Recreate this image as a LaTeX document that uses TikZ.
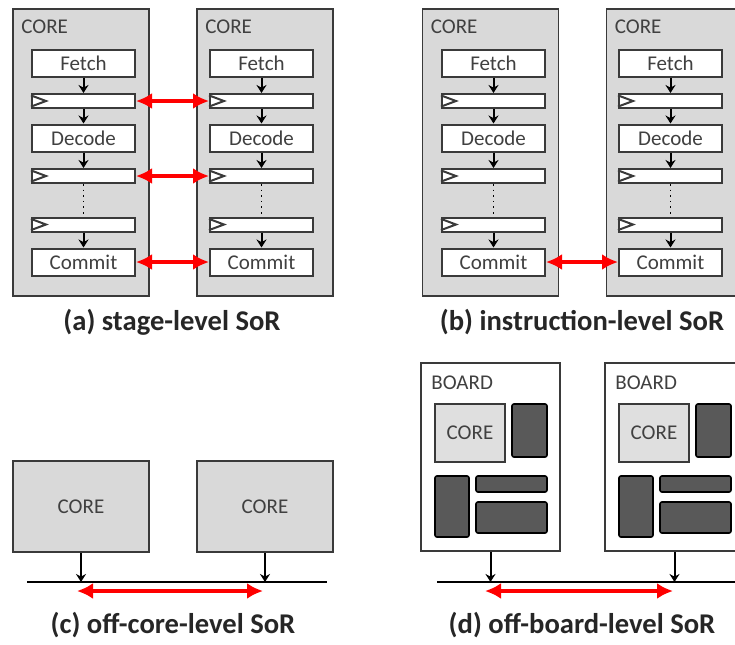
\documentclass[tikz,border=0pt]{standalone}
\usepackage{fontspec}
\setmainfont{Carlito}
\usetikzlibrary{arrows.meta}

\definecolor{coregray}{HTML}{D9D9D9}
\definecolor{chipgray}{HTML}{595959}
\definecolor{edgegray}{HTML}{3A3A3A}
\definecolor{txtgray}{HTML}{404040}

\begin{document}
\begin{tikzpicture}[
	x=0.5pt, y=-0.5pt,
	core/.style={draw=edgegray, fill=coregray, line width=0.9pt, inner sep=0pt, minimum width=68pt, minimum height=143.5pt},
	smallcore/.style={core, minimum height=45.5pt, font=\fontsize{10.5}{12}\selectfont, text=txtgray},
	stagebox/.style={draw=edgegray, fill=white, line width=1pt, inner sep=0pt, minimum width=51.5pt, minimum height=13.5pt, font=\fontsize{10.5}{12}\selectfont, text=txtgray},
	regbox/.style={stagebox, minimum height=7pt},
	lbl/.style={inner sep=0pt, anchor=base west, font=\fontsize{10.5}{12}\selectfont, text=txtgray},
	board/.style={draw=edgegray, fill=white, line width=0.9pt, inner sep=0pt, minimum width=69.5pt, minimum height=94pt},
	chip/.style={draw=black, fill=chipgray, line width=0.8pt, rounded corners=1pt, inner sep=0pt},
	caption/.style={inner sep=0pt, font=\fontsize{14.3}{16}\selectfont\bfseries, text=black!85},
	seta/.style={-{Stealth[length=4pt, width=5pt]}, line width=1pt},
	clk/.style={line width=1pt, draw=edgegray},
	sor/.style={{Latex[length=8pt, width=8pt]}-{Latex[length=8pt, width=8pt]}, line width=1.6pt, draw=red}
	]
	\useasboundingbox (0,0) rectangle (735,644);
	\clip (0,0) rectangle (735,644);

	% (a) and (b): pipelines inside the cores
	\foreach \n/\cx/\sx in {aL/81/83.5, aR/265/261.5, bL/490.5/493.5, bR/674.5/670.5} {
		\node[core] (\n) at (\cx,152.5) {};
		\node[lbl] (\n-lbl) at (\cx-60,33) {CORE};
		\node[stagebox] (\n-f) at (\sx,63.5) {Fetch};
		\node[regbox] (\n-r1) at (\sx,101) {};
		\node[stagebox] (\n-d) at (\sx,138) {Decode};
		\node[regbox] (\n-r2) at (\sx,176) {};
		\node[regbox] (\n-r3) at (\sx,224.5) {};
		\node[stagebox] (\n-c) at (\sx,262) {Commit};
		\draw[seta] (\n-f) -- (\n-r1);
		\draw[seta] (\n-r1) -- (\n-d);
		\draw[seta] (\n-d) -- (\n-r2);
		\draw[dotted, line width=0.8pt] (\n-r2) -- (\n-r3);
		\draw[seta] (\n-r3) -- (\n-c);
		\foreach \r in {r1,r2,r3}
			\draw[clk] ([yshift=2.8pt]\n-\r.west) -- ++(7.5pt,-2.8pt) -- ++(-7.5pt,-2.8pt);
	}
	\draw[sor] (aL-r1) -- (aR-r1);
	\draw[sor] (aL-r2) -- (aR-r2);
	\draw[sor] (aL-c) -- (aR-c);
	\draw[sor] (bL-c) -- (bR-c);
	\node[caption] (capA) at (172,322) {(a) stage-level SoR};
	\node[caption] (capB) at (582,322) {(b) instruction-level SoR};

	% (c) off-core
	\node[smallcore] (cL) at (81,506.5) {CORE};
	\node[smallcore] (cR) at (265,506.5) {CORE};
	\coordinate (busW) at (27,582);
	\coordinate (busE) at (327,582);
	\coordinate (tapL) at (81,582);
	\coordinate (tapR) at (265,582);
	\coordinate (sorcL) at (77,591);
	\coordinate (sorcR) at (263,591);
	\draw[line width=0.9pt] (busW) -- (busE);
	\draw[seta] (cL) -- (tapL);
	\draw[seta] (cR) -- (tapR);
	\draw[sor] (sorcL) -- (sorcR);
	\node[caption] (capC) at (173,625) {(c) off-core-level SoR};

	% (d) off-board
	\foreach \n/\dx in {dL/0, dR/184} {
		\node[board] (\n) at (490.5+\dx,457) {};
		\node[lbl] (\n-lbl) at (431+\dx,389) {BOARD};
		\node[core, fill=coregray!85, minimum width=35pt, minimum height=29pt, font=\fontsize{10.5}{12}\selectfont, text=txtgray] (\n-core) at (470+\dx,433) {CORE};
		\node[chip, minimum width=17.5pt, minimum height=26.5pt] (\n-c1) at (529.5+\dx,430.5) {};
		\node[chip, minimum width=17pt, minimum height=30.5pt] (\n-c2) at (452+\dx,506.5) {};
		\node[chip, minimum width=35.5pt, minimum height=8pt] (\n-c3) at (511.5+\dx,484) {};
		\node[chip, minimum width=35.5pt, minimum height=15.5pt] (\n-c4) at (511.5+\dx,517.5) {};
	}
	\coordinate (busdW) at (437,582);
	\coordinate (busdE) at (745,582);
	\coordinate (tapdL) at (490.5,582);
	\coordinate (tapdR) at (674.5,582);
	\coordinate (sordL) at (485,591);
	\coordinate (sordR) at (673,591);
	\draw[line width=0.9pt] (busdW) -- (busdE);
	\draw[seta] (dL) -- (tapdL);
	\draw[seta] (dR) -- (tapdR);
	\draw[sor] (sordL) -- (sordR);
	\node[caption] (capD) at (582,625) {(d) off-board-level SoR};
\end{tikzpicture}
\end{document}
